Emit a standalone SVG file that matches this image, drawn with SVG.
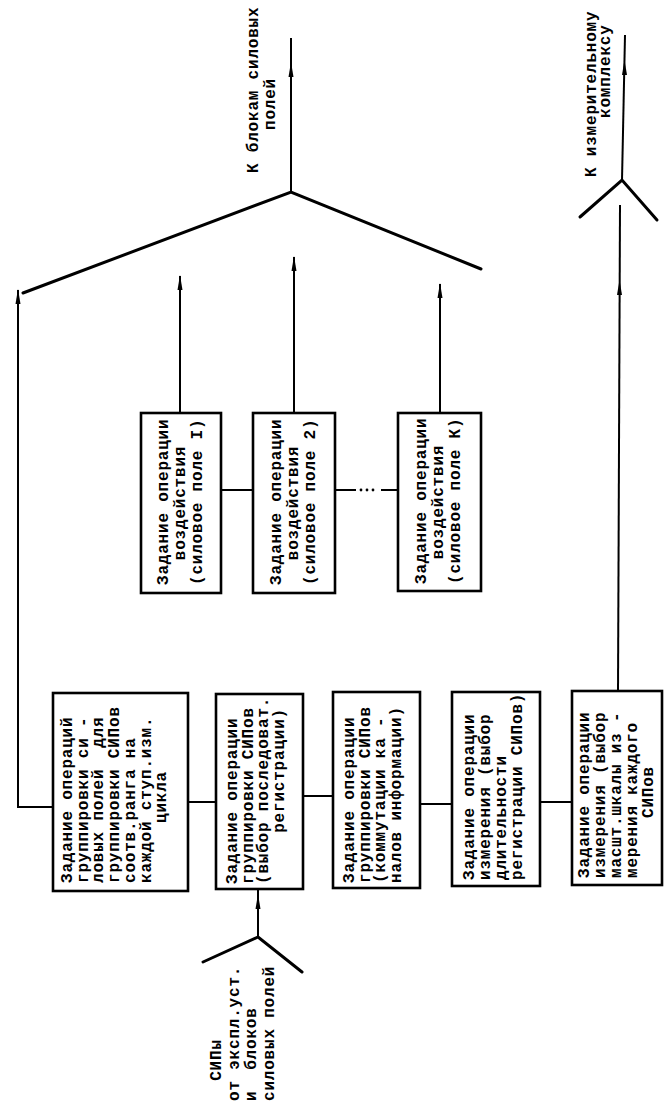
<svg xmlns="http://www.w3.org/2000/svg" width="664" height="1106" viewBox="0 0 664 1106">
<style>
  .box { fill: #fff; stroke: #000; stroke-width: 2.6; }
  .t { font-family: "Liberation Mono", "DejaVu Sans Mono", monospace; font-weight: bold; font-size: 16px; letter-spacing: 0.8px; fill: #000; }
  .m { text-anchor: middle; }
  .e { text-anchor: end; }
  .ln { fill: none; stroke: #000; stroke-width: 2; }
  .br { fill: none; stroke: #000; stroke-width: 3; stroke-linecap: round; }
  .ah { fill: #000; stroke: none; }
</style>
<rect width="664" height="1106" fill="#fff"/>

<g id="connectors">
  <!-- top bracket to force-field blocks -->
  <polyline class="br" points="23,293 291,192 481,269"/>
  <line class="ln" x1="291" y1="192" x2="291" y2="38"/>
  <polygon class="ah" points="291,62 288.5,77 293.5,77"/>
  <!-- left riser from first bottom box -->
  <polyline class="ln" points="53,807 18,807 18,290"/>
  <polygon class="ah" points="18,289 15.5,304 20.5,304"/>
  <!-- risers from force-field boxes -->
  <line class="ln" x1="180" y1="413" x2="180" y2="276"/>
  <polygon class="ah" points="180,275 177.5,290 182.5,290"/>
  <line class="ln" x1="294" y1="413" x2="294" y2="257"/>
  <polygon class="ah" points="294,256 291.5,271 296.5,271"/>
  <line class="ln" x1="440" y1="413" x2="440" y2="284"/>
  <polygon class="ah" points="440,283 437.5,298 442.5,298"/>
  <!-- links between force-field boxes -->
  <line class="ln" x1="221" y1="490" x2="253" y2="490"/>
  <line class="ln" x1="335" y1="490" x2="356" y2="490"/>
  <circle class="ah" cx="361" cy="490" r="1.4"/>
  <circle class="ah" cx="367" cy="490" r="1.4"/>
  <circle class="ah" cx="373" cy="490" r="1.4"/>
  <line class="ln" x1="381" y1="490" x2="398" y2="490"/>
  <!-- measurement output -->
  <line class="ln" x1="618" y1="691" x2="620" y2="205"/>
  <polygon class="ah" points="619.5,280 617,295 622,295"/>
  <polyline class="br" points="580,217 622,180 657,220"/>
  <line class="ln" x1="622" y1="180" x2="625" y2="35"/>
  <polygon class="ah" points="624.5,60 622,75 627,75"/>
  <!-- links between bottom boxes -->
  <line class="ln" x1="188" y1="802" x2="216" y2="802"/>
  <line class="ln" x1="303" y1="796" x2="333" y2="796"/>
  <line class="ln" x1="420" y1="804" x2="452" y2="804"/>
  <line class="ln" x1="540" y1="802" x2="572" y2="802"/>
  <!-- input -->
  <polyline class="br" points="203,962 258,937 302,972"/>
  <line class="ln" x1="258" y1="937" x2="258" y2="889"/>
  <polygon class="ah" points="258,894 255.5,909 260.5,909"/>
</g>

<g id="label-force-blocks">
  <text class="t" x="258" y="173" transform="rotate(-90 258 173)">К блокам силовых</text>
  <text class="t m" x="275" y="104" transform="rotate(-90 275 104)">полей</text>
</g>

<g id="label-measure">
  <text class="t" x="596" y="177" transform="rotate(-90 596 177)">К измерительному</text>
  <text class="t" x="610" y="118" transform="rotate(-90 610 118)">комплексу</text>
</g>

<g id="label-input">
  <text class="t m" x="221" y="1060" transform="rotate(-90 221 1060)">СИПы</text>
  <text class="t" x="239" y="1101" transform="rotate(-90 239 1101)">от экспл.уст.</text>
  <text class="t" x="256" y="1101" transform="rotate(-90 256 1101)" xml:space="preserve">и  блоков</text>
  <text class="t" x="274" y="1101" transform="rotate(-90 274 1101)">силовых полей</text>
</g>

<g id="field-1">
  <rect class="box" x="141" y="413" width="80" height="180"/>
  <text class="t" x="168" y="585" transform="rotate(-90 168 585)">Задание операции</text>
  <text class="t m" x="185" y="503" transform="rotate(-90 185 503)">воздействия</text>
  <text class="t" x="202" y="585" transform="rotate(-90 202 585)">(силовое поле I)</text>
</g>

<g id="field-2">
  <rect class="box" x="253" y="413" width="82" height="180"/>
  <text class="t" x="281" y="585" transform="rotate(-90 281 585)">Задание операции</text>
  <text class="t m" x="298" y="503" transform="rotate(-90 298 503)">воздействия</text>
  <text class="t" x="315" y="585" transform="rotate(-90 315 585)">(силовое поле 2)</text>
</g>

<g id="field-k">
  <rect class="box" x="398" y="413" width="83" height="178"/>
  <text class="t" x="426" y="584" transform="rotate(-90 426 584)">Задание операции</text>
  <text class="t m" x="443" y="502" transform="rotate(-90 443 502)">воздействия</text>
  <text class="t" x="460" y="584" transform="rotate(-90 460 584)">(силовое поле К)</text>
</g>

<g id="op-1">
  <rect class="box" x="53" y="693" width="135" height="198"/>
  <text class="t" x="72" y="883" transform="rotate(-90 72 883)">Задание операций</text>
  <text class="t" x="87.7" y="883" transform="rotate(-90 87.7 883)">группировки си -</text>
  <text class="t" x="103.4" y="883" transform="rotate(-90 103.4 883)" xml:space="preserve">ловых полей  для</text>
  <text class="t" x="119.1" y="883" transform="rotate(-90 119.1 883)">группировки СИПов</text>
  <text class="t" x="134.8" y="883" transform="rotate(-90 134.8 883)">соотв.ранга на</text>
  <text class="t" x="150.5" y="883" transform="rotate(-90 150.5 883)">каждой ступ.изм.</text>
  <text class="t m" x="166.2" y="797" transform="rotate(-90 166.2 797)">цикла</text>
</g>

<g id="op-2">
  <rect class="box" x="216" y="694" width="87" height="195"/>
  <text class="t" x="237" y="884" transform="rotate(-90 237 884)">Задание операции</text>
  <text class="t" x="252.5" y="884" transform="rotate(-90 252.5 884)">группировки СИПов</text>
  <text class="t" x="268" y="884" transform="rotate(-90 268 884)">(выбор последоват.</text>
  <text class="t e" x="283.5" y="708" transform="rotate(-90 283.5 708)">регистрации)</text>
</g>

<g id="op-3">
  <rect class="box" x="333" y="692" width="87" height="196"/>
  <text class="t" x="354" y="883" transform="rotate(-90 354 883)">Задание операции</text>
  <text class="t" x="369.5" y="883" transform="rotate(-90 369.5 883)">группировки СИПов</text>
  <text class="t" x="385" y="883" transform="rotate(-90 385 883)">(коммутации ка -</text>
  <text class="t" x="400.5" y="883" transform="rotate(-90 400.5 883)">налов информации)</text>
</g>

<g id="op-4">
  <rect class="box" x="452" y="692" width="88" height="194"/>
  <text class="t" x="474" y="880" transform="rotate(-90 474 880)">Задание операции</text>
  <text class="t" x="490" y="880" transform="rotate(-90 490 880)">измерения (выбор</text>
  <text class="t" x="506" y="880" transform="rotate(-90 506 880)">длительности</text>
  <text class="t" x="522" y="880" transform="rotate(-90 522 880)">регистрации СИПов)</text>
</g>

<g id="op-5">
  <rect class="box" x="572" y="691" width="90" height="194"/>
  <text class="t" x="589" y="878" transform="rotate(-90 589 878)">Задание операции</text>
  <text class="t" x="605" y="878" transform="rotate(-90 605 878)">измерения (выбор</text>
  <text class="t" x="621" y="878" transform="rotate(-90 621 878)">масшт.шкалы из -</text>
  <text class="t" x="637" y="878" transform="rotate(-90 637 878)">мерения каждого</text>
  <text class="t m" x="653" y="792" transform="rotate(-90 653 792)">СИПов</text>
</g>
</svg>
